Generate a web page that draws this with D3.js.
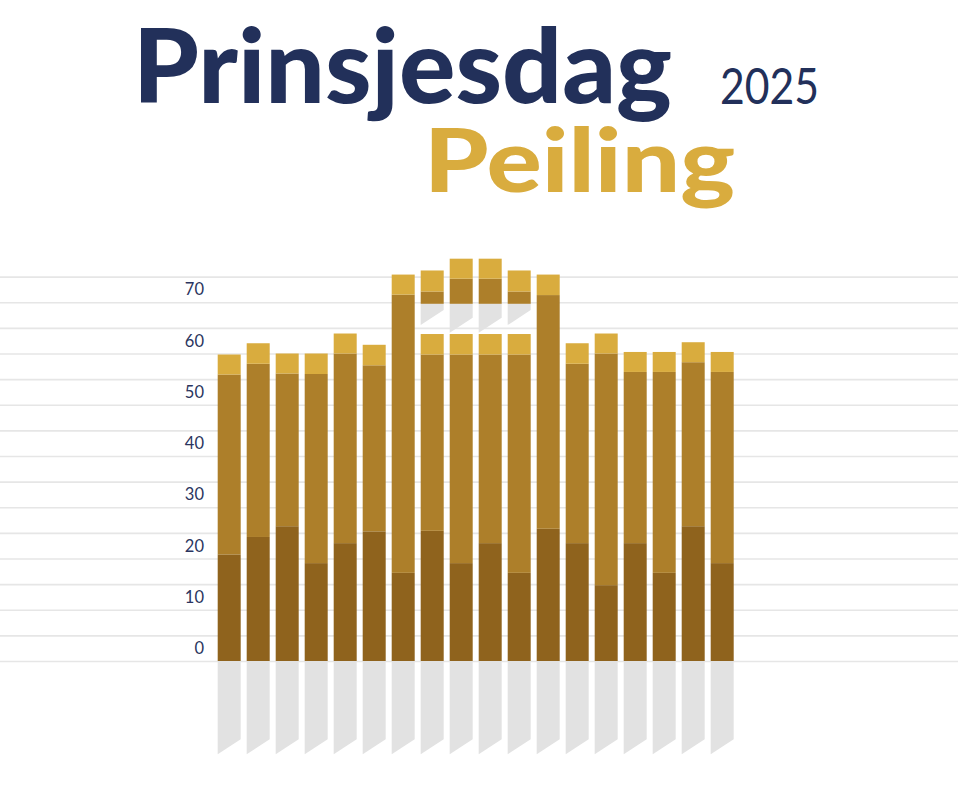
<!DOCTYPE html>
<html>
<head>
<meta charset="utf-8">
<script src="https://cdn.jsdelivr.net/npm/d3@7"></script>
<style>
  html, body { margin: 0; padding: 0; background: #ffffff; }
  svg { display: block; }
</style>
</head>
<body>
<svg id="chart" width="962" height="801"></svg>
<script>
// ---------- DATA ----------
const categories = ["1","2","3","4","5","6","7","8","9","10","11","12","13","14","15","16","17","18"];
const seriesDark = [20.8, 24.2, 26.3, 19.1, 23.0, 25.3, 17.2, 25.4, 19.1, 23.0, 17.2, 25.8, 23.0, 14.8, 23.0, 17.2, 26.3, 19.1];
const seriesMid  = [35.1, 33.8, 29.8, 36.9, 37.0, 32.4, 54.3, 34.4, 40.7, 36.8, 42.6, 45.6, 35.0, 45.2, 33.4, 39.2, 32.0, 37.3];
const seriesGold = [3.9, 4.0, 3.9, 4.0, 3.9, 4.0, 3.9, 4.0, 4.0, 4.0, 4.0, 4.0, 4.0, 3.9, 3.9, 3.9, 3.9, 3.9];

// floating top pieces (the "towers")
const floatCategories = ["8","9","10","11"];
const floatBase = [69.7, 69.7, 69.7, 69.7];
const floatMid  = [2.4, 4.9, 4.9, 2.4];
const floatGold = [4.1, 3.9, 3.9, 4.1];

const yTicks = [0, 10, 20, 30, 40, 50, 60, 70];
const gridTicks = [0, 5, 10, 15, 20, 25, 30, 35, 40, 45, 50, 55, 60, 65, 70, 75];
const reflectionDepth = -18.2;

const titleMain = "Prinsjesdag";
const titleYear = "2025";
const titleSub = "Peiling";

// ---------- STYLE ----------
const colors = { dark: "#8f631d", mid: "#ad7f2a", gold: "#d9ac3e", shadow: "#e2e2e2", grid: "#e6e6e6", navy: "#22305a", label: "#2b3560" };
const slant = 15;

const svg = d3.select("#chart");

const x = d3.scaleBand().domain(categories).range([217.7, 733.7]).paddingInner(0.207).paddingOuter(0);
const y = d3.scaleLinear().domain([0, 75]).range([661, 661 - 75 * 5.125]);

// gridlines
const gridAxis = d3.axisRight(y).tickValues(gridTicks).tickSize(958).tickFormat("");
const g = svg.append("g").call(gridAxis);
g.select(".domain").remove();
g.selectAll(".tick line").attr("stroke", colors.grid).attr("stroke-width", 1.6);

// y labels
const labelAxis = d3.axisLeft(y).tickValues(yTicks).tickSize(0).tickPadding(0);
const la = svg.append("g").attr("transform", "translate(204,0)").call(labelAxis);
la.select(".domain").remove();
la.selectAll(".tick text")
  .attr("font-family", "Lato, 'Noto Sans', sans-serif")
  .attr("font-size", 16.5)
  .attr("fill", colors.label)
  .attr("dy", "-0.45em")
  .attr("y", 0);

// table
const table = categories.map((c, i) => ({ cat: c, dark: seriesDark[i], mid: seriesMid[i], gold: seriesGold[i] }));
const stack = d3.stack().keys(["dark", "mid", "gold"]);
const layers = stack(table);

// reflection shadows under the baseline
function shadowPath(x0, x1, yTop, yBottomLeft) {
  return `M${x0},${yTop}L${x1},${yTop}L${x1},${yBottomLeft - slant}L${x0},${yBottomLeft}Z`;
}
svg.append("g").selectAll("path").data(table).join("path")
  .attr("d", d => shadowPath(x(d.cat), x(d.cat) + x.bandwidth(), y(0), y(reflectionDepth)))
  .attr("fill", colors.shadow);

// floating pieces
const floatTable = floatCategories.map((c, i) => ({ cat: c, base: floatBase[i], mid: floatMid[i], gold: floatGold[i] }));
svg.append("g").selectAll("path").data(floatTable).join("path")
  .attr("d", d => shadowPath(x(d.cat), x(d.cat) + x.bandwidth(), y(d.base), y(d.base - 0.64 * (d.mid + d.gold))))
  .attr("fill", colors.shadow);

// main bars
const colorKey = { dark: colors.dark, mid: colors.mid, gold: colors.gold };
svg.append("g").selectAll("g").data(layers).join("g")
  .attr("fill", l => colorKey[l.key])
  .selectAll("rect").data(l => l).join("rect")
  .attr("x", d => x(d.data.cat))
  .attr("width", x.bandwidth())
  .attr("y", d => y(d[1]))
  .attr("height", d => y(d[0]) - y(d[1]));

const fg = svg.append("g");
fg.selectAll("rect.fm").data(floatTable).join("rect").attr("class", "fm")
  .attr("x", d => x(d.cat)).attr("width", x.bandwidth())
  .attr("y", d => y(d.base + d.mid)).attr("height", d => y(d.base) - y(d.base + d.mid))
  .attr("fill", colors.mid);
fg.selectAll("rect.fg").data(floatTable).join("rect").attr("class", "fg")
  .attr("x", d => x(d.cat)).attr("width", x.bandwidth())
  .attr("y", d => y(d.base + d.mid + d.gold)).attr("height", d => y(d.base + d.mid) - y(d.base + d.mid + d.gold))
  .attr("fill", colors.gold);

// titles
const font = "Lato, 'Noto Sans', sans-serif";
svg.append("text").text(titleMain)
  .attr("x", 133).attr("y", 103)
  .attr("font-family", font).attr("font-weight", 900).attr("font-size", 102)
  .attr("textLength", 539).attr("lengthAdjust", "spacingAndGlyphs")
  .attr("fill", colors.navy);
svg.append("text").text(titleYear)
  .attr("x", 720).attr("y", 104)
  .attr("font-family", font).attr("font-weight", 400).attr("font-size", 50)
  .attr("textLength", 99).attr("lengthAdjust", "spacingAndGlyphs")
  .attr("fill", colors.navy);
svg.append("text").text(titleSub)
  .attr("x", 424).attr("y", 192)
  .attr("font-family", font).attr("font-weight", 900).attr("font-size", 88)
  .attr("textLength", 311).attr("lengthAdjust", "spacingAndGlyphs")
  .attr("fill", colors.gold);
</script>
</body>
</html>
